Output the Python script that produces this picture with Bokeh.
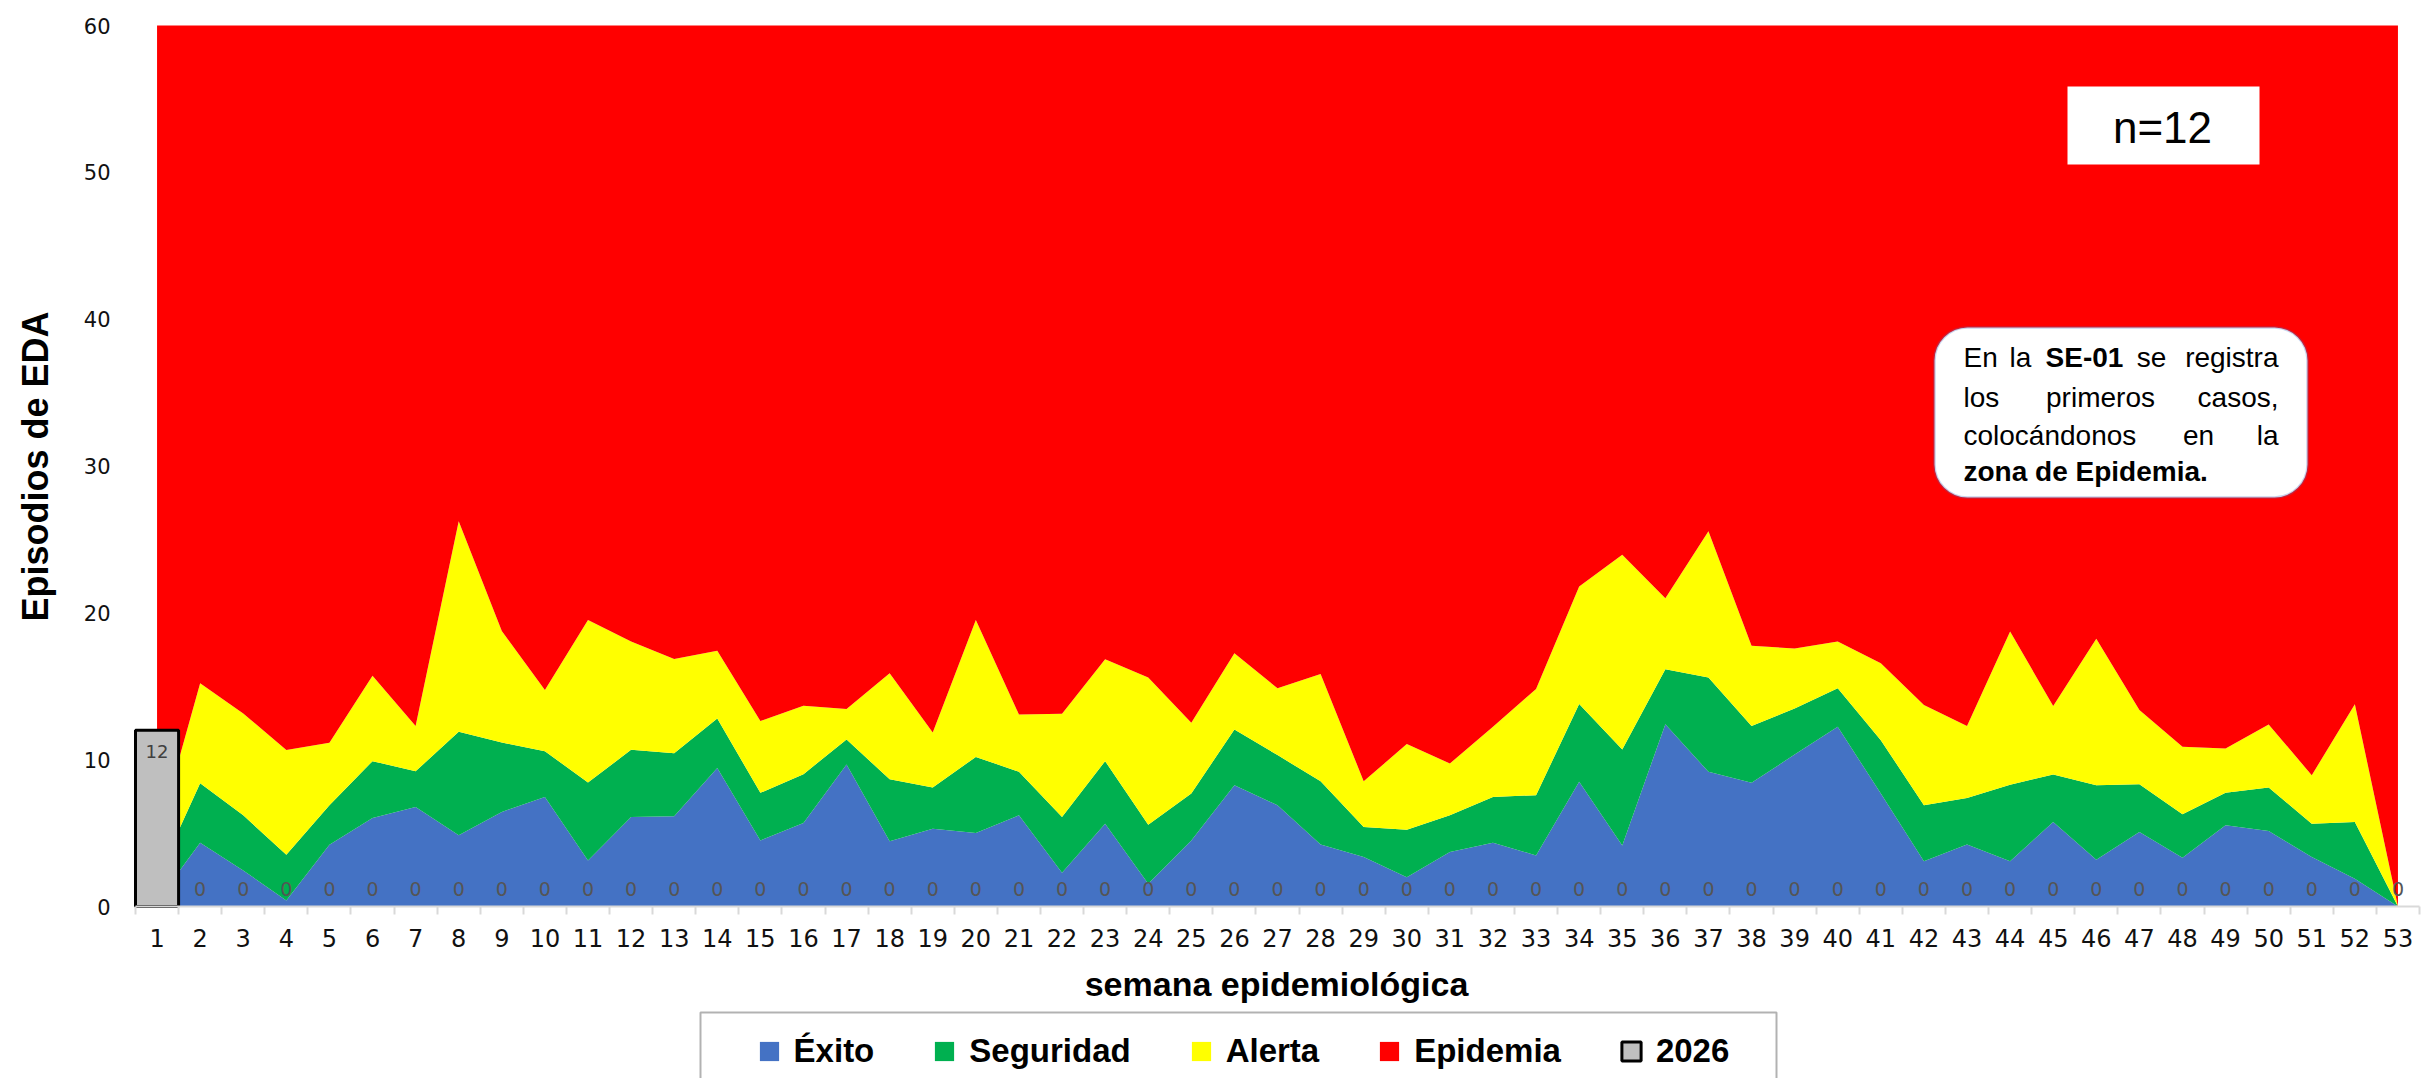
import math
from bokeh.plotting import figure
from bokeh.models import (ColumnDataSource, Range1d, FixedTicker, Legend, LegendItem,
                          BoxAnnotation, Label)
from bokeh.embed import file_html
from bokeh.resources import INLINE

# ---------------- data ----------------
weeks = list(range(1, 54))
week_labels = [str(w) for w in weeks]

exito = [0.35, 4.35, 2.46, 0.41, 4.2, 6.03, 6.78, 4.85, 6.44, 7.46,
         3.14, 6.1, 6.14, 9.44, 4.5, 5.69, 9.67, 4.44, 5.3, 5.0,
         6.21, 2.3, 5.64, 1.55, 4.5, 8.26, 6.89, 4.23, 3.37, 2.0,
         3.71, 4.35, 3.48, 8.49, 4.16, 12.42, 9.17, 8.42, 10.35, 12.24,
         7.69, 3.09, 4.23, 3.09, 5.76, 3.19, 5.07, 3.32, 5.53, 5.14,
         3.37, 1.89, 0.0]
seguridad = [1.61, 4.05, 3.75, 3.12, 2.69, 3.87, 2.43, 7.05, 4.73, 3.12,
             5.3, 4.57, 4.3, 3.37, 3.24, 3.32, 1.71, 4.22, 2.8, 5.19,
             2.96, 3.8, 4.26, 4.02, 3.19, 3.8, 3.42, 4.3, 2.05, 3.23,
             2.5, 3.11, 4.1, 5.3, 6.53, 3.73, 6.42, 3.87, 3.14, 2.62,
             3.64, 3.8, 3.16, 5.21, 3.23, 5.07, 3.26, 2.96, 2.21, 2.96,
             2.27, 3.87, 0.0]
alerta = [2.74, 6.8, 6.94, 7.12, 4.26, 5.82, 3.08, 14.33, 7.6, 4.16,
          11.08, 7.37, 6.42, 4.6, 4.89, 4.66, 2.07, 7.22, 3.75, 9.33,
          3.91, 7.03, 6.94, 10.02, 4.82, 5.19, 4.55, 7.31, 3.11, 5.83,
          3.53, 4.78, 7.23, 8.01, 13.27, 4.85, 9.96, 5.46, 4.08, 3.18,
          5.23, 6.83, 4.9, 10.43, 4.66, 9.97, 5.05, 4.6, 3.02, 4.3,
          3.3, 8.01, 0.0]
epidemia = [55.3, 44.8, 46.85, 49.35, 48.85, 44.28, 47.71, 33.77, 41.23, 45.26,
            40.48, 41.96, 43.14, 42.59, 47.37, 46.33, 46.55, 44.12, 48.15, 40.48,
            46.92, 46.87, 43.16, 44.41, 47.49, 42.75, 45.14, 44.16, 51.47, 48.94,
            50.26, 47.76, 45.19, 38.2, 36.04, 39.0, 34.45, 42.25, 42.43, 41.96,
            43.44, 46.28, 47.71, 41.27, 46.35, 41.77, 46.62, 49.12, 49.24, 47.6,
            51.06, 46.23, 60.0]
casos_2026 = [12, 0, 0, 0, 0, 0, 0, 0, 0, 0,
              0, 0, 0, 0, 0, 0, 0, 0, 0, 0,
              0, 0, 0, 0, 0, 0, 0, 0, 0, 0,
              0, 0, 0, 0, 0, 0, 0, 0, 0, 0,
              0, 0, 0, 0, 0, 0, 0, 0, 0, 0,
              0, 0, 0]

zone_names = ["Éxito", "Seguridad", "Alerta", "Epidemia"]
zone_colors = ["#4472C4", "#00B050", "#FFFF00", "#FF0000"]
bar_name = "2026"
y_ticks = [0, 10, 20, 30, 40, 50, 60]
x_title = "semana epidemiológica"
y_title = "Episodios de EDA"
n_text = "n=12"

# ---------------- geometry ----------------
W, H = 2425, 1078
# pixel positions of the data extents (category 0.5..53.5, value 0..60)
PL, PR, PT, PB = 135.0, 2419.0, 25.0, 906.0
X0, X1, Y0, Y1 = 0.5, 53.5, 0.0, 60.0
sxp = (X1 - X0) / (PR - PL)
syp = (Y1 - Y0) / (PB - PT)
XLO, XHI = X0 - PL * sxp, X1 + (W - PR) * sxp
YLO, YHI = Y0 - (H - PB) * syp, Y1 + PT * syp


def dx(px):
    return XLO + px * sxp


def dy(py):
    return YHI - py * syp


p = figure(width=W, height=H, x_range=Range1d(XLO, XHI), y_range=Range1d(YLO, YHI),
           output_backend="svg", toolbar_location=None,
           min_border_left=0, min_border_right=0, min_border_top=0, min_border_bottom=0)
p.outline_line_color = None
p.xgrid.grid_line_color = None
p.ygrid.grid_line_color = None
p.background_fill_color = "white"
p.border_fill_color = "white"

# ---------------- stacked areas ----------------
keys = ["exito", "seguridad", "alerta", "epidemia"]
src = ColumnDataSource(dict(week=weeks, exito=exito, seguridad=seguridad,
                            alerta=alerta, epidemia=epidemia))
areas = p.varea_stack(stackers=keys, x="week", color=zone_colors, source=src)

# ---------------- 2026 bars ----------------
bar_weeks = [w for w, c in zip(weeks, casos_2026) if c > 0]
bar_vals = [c for c in casos_2026 if c > 0]
bar_src = ColumnDataSource(dict(week=bar_weeks, casos=bar_vals,
                                lbl=[str(c) for c in bar_vals]))
bars = p.vbar(x="week", top="casos", width=1.0, source=bar_src,
              fill_color="#BFBFBF", line_color="black", line_width=3)
p.text(x="week", y="casos", text="lbl", source=bar_src, text_align="center",
       text_baseline="middle", y_offset=21, text_font_size="18px",
       text_color="#404040", text_font={"value": "DejaVu Sans"})

zero_weeks = [w for w, c in zip(weeks, casos_2026) if c == 0]
zero_vals = [c for c in casos_2026 if c == 0]
zero_src = ColumnDataSource(dict(week=zero_weeks, casos=zero_vals,
                                 lbl=[str(c) for c in zero_vals]))
p.text(x="week", y="casos", text="lbl", source=zero_src, text_align="center",
       text_baseline="middle", y_offset=-18, text_font_size="19px",
       text_color="#555555", text_font={"value": "DejaVu Sans"})

# ---------------- axes ----------------
xa = p.xaxis[0]
xa.fixed_location = 0
xa.bounds = (X0, X1)
xa.ticker = FixedTicker(ticks=weeks, minor_ticks=[w - 0.5 for w in weeks] + [weeks[-1] + 0.5])
xa.major_label_overrides = {w: l for w, l in zip(weeks, week_labels)}
xa.major_tick_line_color = None
xa.major_tick_out = 0
xa.major_tick_in = 0
xa.minor_tick_line_color = "#D9D9D9"
xa.minor_tick_line_width = 2
xa.minor_tick_out = 8
xa.minor_tick_in = 0
xa.axis_line_color = "#D9D9D9"
xa.axis_line_width = 2
xa.major_label_text_font = "DejaVu Sans"
xa.major_label_text_font_size = "24px"
xa.major_label_text_color = "#111111"
xa.major_label_standoff = 14

ya = p.yaxis[0]
ya.fixed_location = X0
ya.bounds = (Y0, Y1)
ya.ticker = FixedTicker(ticks=y_ticks)
ya.major_tick_line_color = None
ya.minor_tick_line_color = None
ya.major_tick_out = 0
ya.major_tick_in = 0
ya.axis_line_color = None
ya.major_label_text_font = "DejaVu Sans"
ya.major_label_text_font_size = "21px"
ya.major_label_text_color = "#111111"
ya.major_label_standoff = 25

# axis titles
p.add_layout(Label(x=dx(35), y=dy(466), text=y_title, angle=math.pi / 2,
                   text_align="center", text_baseline="middle",
                   text_font="Liberation Sans", text_font_style="bold",
                   text_font_size="36px", text_color="black"))
p.add_layout(Label(x=dx(1276), y=dy(983), text=x_title,
                   text_align="center", text_baseline="middle",
                   text_font="Liberation Sans", text_font_style="bold",
                   text_font_size="34px", text_color="black"))

# ---------------- annotations ----------------
p.add_layout(BoxAnnotation(left=dx(2067), right=dx(2259), top=dy(86), bottom=dy(164),
                           fill_color="white", fill_alpha=1.0, line_color=None))
p.add_layout(Label(x=dx(2162), y=dy(127), text=n_text, text_align="center",
                   text_baseline="middle", text_font="Liberation Sans",
                   text_font_size="44px", text_color="black"))

p.add_layout(BoxAnnotation(left=dx(1934), right=dx(2307), top=dy(327), bottom=dy(497),
                           fill_color="white", fill_alpha=1.0, line_color="#4472C4",
                           line_width=2.5, border_radius=33))

callout_words = [
    ("En", 1963, 357, "left", "normal"),
    ("la", 2020, 357, "center", "normal"),
    ("SE-01", 2084, 357, "center", "bold"),
    ("se", 2151, 357, "center", "normal"),
    ("registra", 2278, 357, "right", "normal"),
    ("los", 1963, 397, "left", "normal"),
    ("primeros", 2100, 397, "center", "normal"),
    ("casos,", 2278, 397, "right", "normal"),
    ("colocándonos", 1963, 435, "left", "normal"),
    ("en", 2198, 435, "center", "normal"),
    ("la", 2278, 435, "right", "normal"),
    ("zona de Epidemia.", 1963, 471, "left", "bold"),
]
for t, px, py, al, st in callout_words:
    p.add_layout(Label(x=dx(px), y=dy(py), text=t, text_align=al, text_baseline="middle",
                       text_font="Liberation Sans", text_font_style=st,
                       text_font_size="28px", text_color="black"))

# ---------------- legend ----------------
p.add_layout(BoxAnnotation(left=dx(700), right=dx(1776), top=dy(1012), bottom=dy(1120),
                           fill_color="white", fill_alpha=1.0,
                           line_color="black", line_width=2))

items = [LegendItem(label=n, renderers=[r]) for n, r in zip(zone_names, areas)]
items.append(LegendItem(label=bar_name, renderers=[bars]))
leg = Legend(items=items, orientation="horizontal",
             location=(756.6, H - 1070),
             padding=0, margin=0, spacing=58, label_standoff=13,
             glyph_width=24, glyph_height=24,
             label_text_font="Liberation Sans", label_text_font_style="bold",
             label_text_font_size="33px", label_text_color="black",
             border_line_color=None, background_fill_alpha=0.0)
p.add_layout(leg, "center")

open("out.html", "w").write(file_html(p, INLINE))
